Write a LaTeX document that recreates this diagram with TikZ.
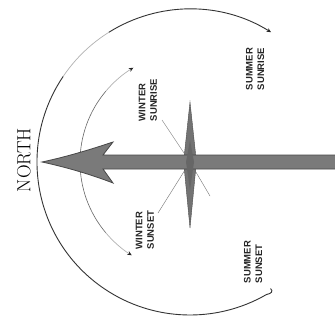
\documentclass[tikz,border=0pt]{standalone}
\usepackage{fontspec}
\newfontfamily\lblfont{Liberation Sans}
\usetikzlibrary{arrows.meta}
\tikzset{endtip/.tip={Stealth[length=4.5pt,width=4pt,fill=black!85,color=black!85]}}
\begin{document}
\begin{tikzpicture}[x=1pt,y=-1pt,
  sunpath/.style={draw=black!80,line width=0.9pt},
  faintpath/.style={draw=black!30,line width=0.7pt},
  innerpath/.style={draw=black!60,line width=0.6pt},
  ray/.style={draw=black!55,line width=0.4pt},
  lbl/.style={rotate=90,align=left,inner sep=0pt,text=black!85,font=\lblfont\fontsize{9.5}{11.5}\selectfont\bfseries}]
\useasboundingbox (0,0) rectangle (335,325);
\fill[white] (0,0) rectangle (335,325);
\coordinate (c) at (190,162);
% outer (summer) path
\path (c) ++(-58:153) coordinate (sumrise);
\path (c) ++(-300:153) coordinate (sumset);
\path (c) ++(-122:153) coordinate (o1);
\path (c) ++(-146:153) coordinate (o2);
\draw[sunpath,{endtip}-] (sumrise) arc[start angle=-58,end angle=-122,radius=153];
\draw[faintpath] (o1) arc[start angle=-122,end angle=-146,radius=153];
\draw[sunpath] (o2) arc[start angle=-146,end angle=-300,radius=153]
   .. controls +(5,-1) and +(3,3) .. ++(4,-6);
% inner (winter) path
\path (c) ++(-121:110) coordinate (winrise);
\path (c) ++(-238:110) coordinate (winset);
\path (c) ++(-140:110) coordinate (i1);
\path (c) ++(-220:110) coordinate (i2);
\draw[faintpath,{endtip}-] (winrise) arc[start angle=-121,end angle=-140,radius=110];
\draw[innerpath] (i1) arc[start angle=-140,end angle=-220,radius=110];
\draw[faintpath,-{endtip}] (i2) arc[start angle=-220,end angle=-238,radius=110];
% rays from centre
\coordinate (r1) at (162,120);
\coordinate (r2) at (158,213);
\coordinate (r3) at (210,196);
\draw[ray] (c) -- (r1);
\draw[ray] (c) -- (r2);
\draw[ray] (c) -- (r3);
% compass star
\filldraw[fill=black!55,draw=black!70,line width=0.4pt]
  (190,102) -- (196,158) -- (199,162) -- (196,166) -- (190,228) -- (184,166) -- (181,162) -- (184,158) -- cycle;
% north arrow
\filldraw[fill=black!52,draw=black!72,line width=0.8pt]
  (42,162) .. controls (70,156) and (95,148) .. (113,142) -- (103,155) -- (336,155) -- (336,169) -- (103,169) -- (113,183)
  .. controls (95,176) and (70,168) .. (42,162) -- cycle;
\fill[black!60] (190,140) -- (194,162) -- (190,190) -- (186,162) -- cycle;
% labels
\node[rotate=90,inner sep=0pt,font=\fontsize{19}{19}\selectfont] (north) at (24,160) {NORTH};
\node[lbl] (wsr) at (148,100) {WINTER\\SUNRISE};
\node[lbl] (ssr) at (255,69) {SUMMER\\SUNRISE};
\node[lbl] (wss) at (145,230) {WINTER\\SUNSET};
\node[lbl] (sss) at (253,262) {SUMMER\\SUNSET};
\end{tikzpicture}
\end{document}
